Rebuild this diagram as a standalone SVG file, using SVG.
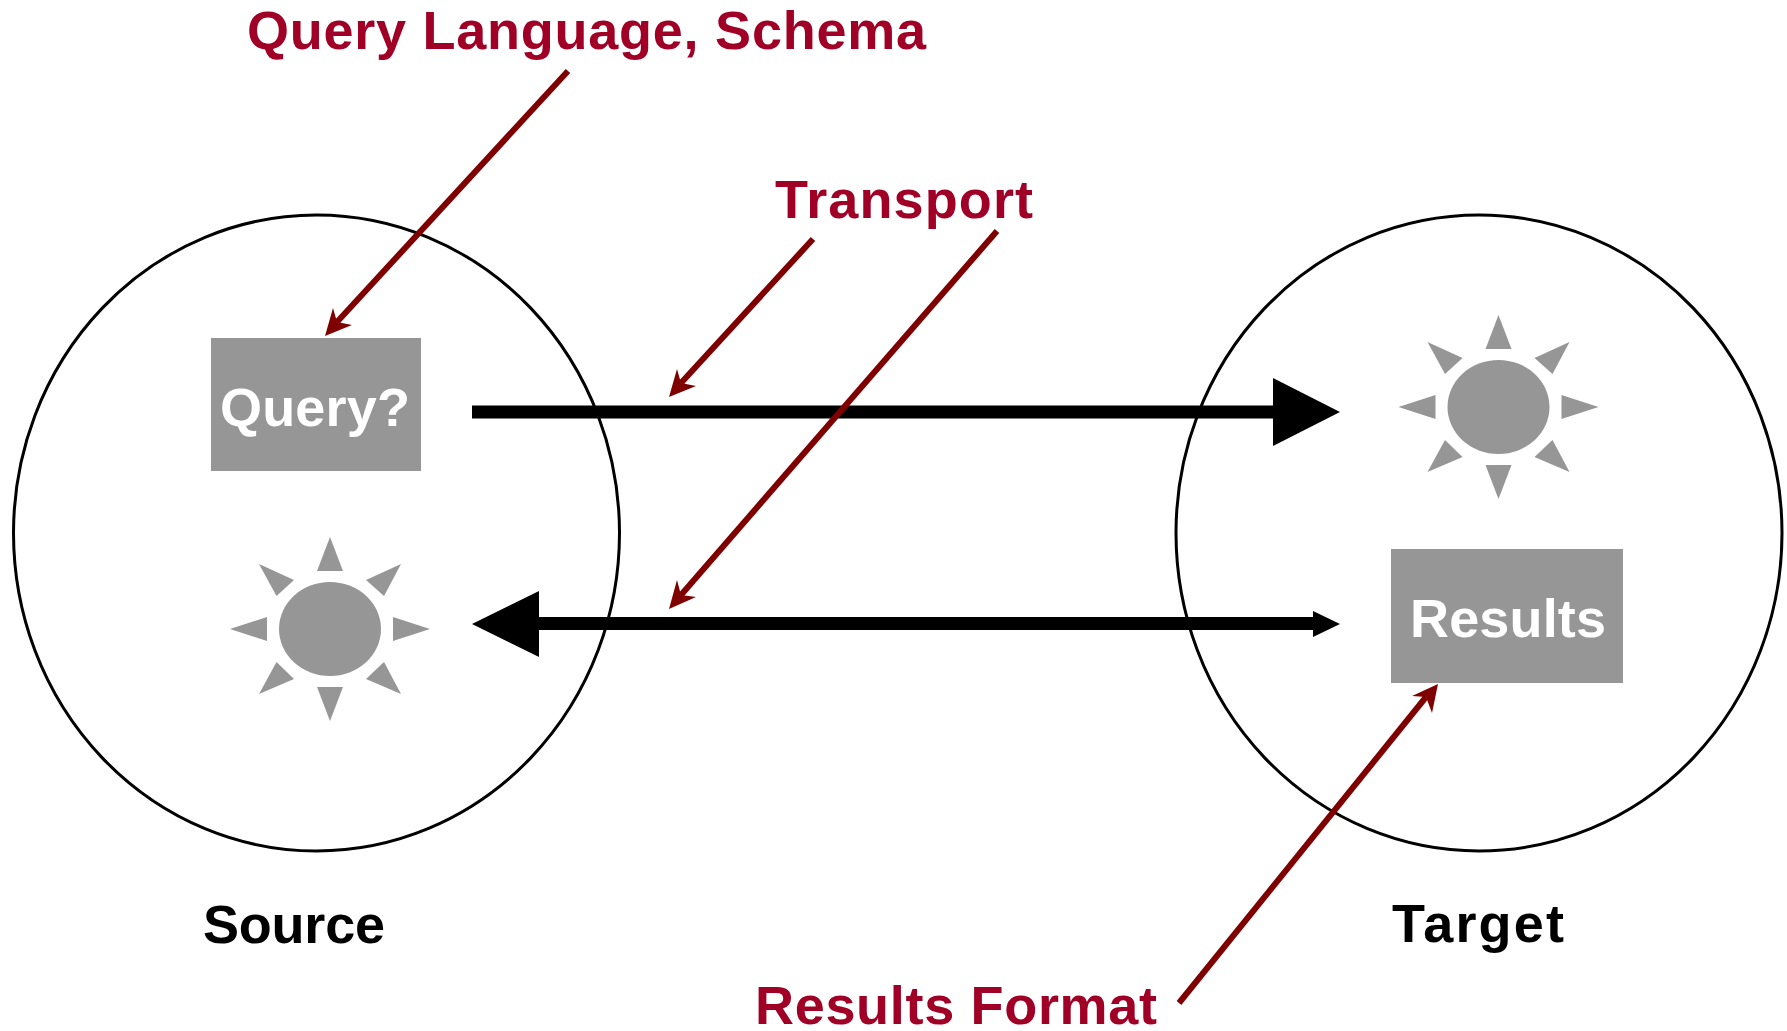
<svg xmlns="http://www.w3.org/2000/svg" width="1787" height="1031" viewBox="0 0 1787 1031">
<style>
text{font-family:"Liberation Sans",Arial,sans-serif;font-weight:700;font-size:54px}
.lab{fill:#a10026}
.blk{fill:#000}
.wht{fill:#fff}
.c{fill:none;stroke:#000;stroke-width:3}
.g{fill:#969696}
.r{fill:none;stroke:#7f0000;stroke-width:6}
.rh{fill:#7f0000}
</style>
<defs>
<g id="sun" class="g">
<ellipse cx="0" cy="0" rx="51" ry="47"/>
<polygon points="0,-92 -13,-58 13,-58"/>
<polygon points="0,92 -13,58 13,58"/>
<polygon points="-100,0 -63,-12 -63,12"/>
<polygon points="100,0 63,-12 63,12"/>
<polygon points="-71,-65 -36,-49 -53.500,-33"/>
<polygon points="71,-65 36,-49 54,-33"/>
<polygon points="-71,65 -36,50 -53.500,33"/>
<polygon points="71,65 36,50 54,33"/>
</g>
</defs>
<g id="source"><ellipse class="c" cx="316.500" cy="533" rx="303" ry="318"/><text class="blk" x="203" y="943" textLength="182" lengthAdjust="spacing">Source</text></g>
<g id="target"><ellipse class="c" cx="1479" cy="533" rx="303" ry="318"/><text class="blk" x="1392" y="942" textLength="172" lengthAdjust="spacing">Target</text></g>
<g id="query"><rect class="g" x="211" y="338" width="210" height="133"/><text class="wht" x="220" y="426" textLength="190" lengthAdjust="spacing">Query?</text></g>
<g id="results"><rect class="g" x="1391" y="549" width="232" height="134"/><text class="wht" x="1410" y="637" textLength="196" lengthAdjust="spacing">Results</text></g>
<g id="sun-source"><use href="#sun" x="330" y="629"/></g>
<g id="sun-target"><use href="#sun" x="1498.500" y="407"/></g>
<g id="label-query"><text class="lab" x="247" y="49" textLength="679" lengthAdjust="spacing">Query Language, Schema</text></g>
<g id="label-transport"><text class="lab" x="775" y="218" textLength="258" lengthAdjust="spacing">Transport</text></g>
<g id="label-results"><text class="lab" x="755" y="1024" textLength="402" lengthAdjust="spacing">Results Format</text></g>
<g id="connectors">
<rect x="472" y="405.500" width="802" height="13"/>
<polygon points="1273,378 1340,412 1273,446"/>
<rect x="538" y="617" width="776" height="13"/>
<polygon points="472,624 539,591 539,657"/>
<polygon points="1313,611 1340,624 1313,637"/>
<path class="r" d="M568 71L337 322"/>
<polygon class="rh" points="325,336 333,308 337,322 352,325"/>
<path class="r" d="M813 239L681 383"/>
<polygon class="rh" points="669,397 677,369 681,383 696,386"/>
<path class="r" d="M997 231L681 595"/>
<polygon class="rh" points="669,609 677,580 681,595 696,597"/>
<path class="r" d="M1179 1003L1426 697"/>
<polygon class="rh" points="1438,684 1432,713 1426,697 1412,696"/>
</g>
</svg>
